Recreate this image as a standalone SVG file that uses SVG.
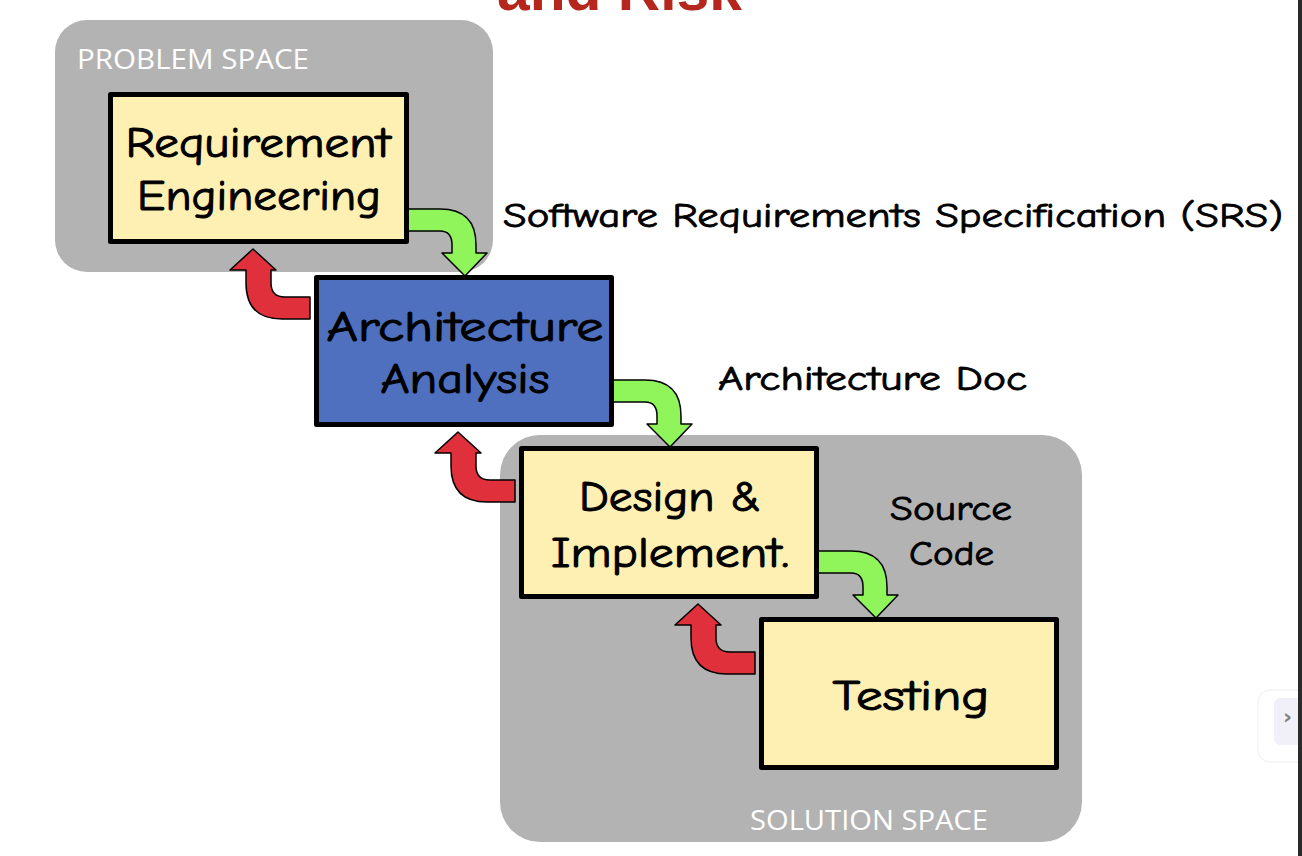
<svg xmlns="http://www.w3.org/2000/svg" xmlns:xlink="http://www.w3.org/1999/xlink" width="1302" height="856" viewBox="0 0 1302 856">
<style>
.space{fill:#b3b3b3}
.spacelabel{font-family:"Open Sans","Liberation Sans",sans-serif;font-size:27px;fill:#ffffff}
.box{stroke:#000;stroke-width:5;stroke-linejoin:round}
.yellow{fill:#fdf0b2}
.blue{fill:#4f6fbf}
.t{font-family:"Comic Sans MS","Comic Neue","DejaVu Sans",sans-serif;font-size:42px;fill:#000;stroke:#000;stroke-width:1;text-anchor:middle}
.lbl{font-family:"Comic Sans MS","Comic Neue","DejaVu Sans",sans-serif;font-size:34px;fill:#000;stroke:#000;stroke-width:0.8}
.green{fill:#8ff55a;stroke:#000;stroke-width:1.5;stroke-linejoin:round}
.red{fill:#e0303c;stroke:#000;stroke-width:1.5;stroke-linejoin:round}
</style>
<defs>
<path id="garrow" d="M405,209 L440,209 Q476,209 476,245 L476,253 L487,253 L465,276 L442,253 L452,253 L452,245 Q452,231 440,231 L405,231 Z"/>
<path id="rarrow" d="M310,297 L285,297 Q271,297 271,283 L271,270 L276,270 L253,249 L230,270 L246,270 L246,283 Q246,319 282,319 L310,319 Z"/>
</defs>
<rect width="1302" height="856" fill="#ffffff"/>
<text x="497" y="10" font-family="Liberation Sans,Arial,sans-serif" font-weight="bold" font-size="59" fill="#b5261c" textLength="245" lengthAdjust="spacingAndGlyphs">and Risk</text>
<g id="problem-space">
<rect class="space" x="55" y="20" width="438" height="252" rx="32"/>
<text class="spacelabel" x="77" y="69" textLength="232" lengthAdjust="spacingAndGlyphs">PROBLEM SPACE</text>
</g>
<g id="solution-space">
<rect class="space" x="500" y="435" width="582" height="407" rx="40"/>
<text class="spacelabel" x="750" y="830" textLength="238" lengthAdjust="spacingAndGlyphs">SOLUTION SPACE</text>
</g>
<g id="connectors">
<use xlink:href="#garrow" class="green"/>
<use xlink:href="#garrow" class="green" transform="translate(205,171)"/>
<use xlink:href="#garrow" class="green" transform="translate(411,342)"/>
<use xlink:href="#rarrow" class="red"/>
<use xlink:href="#rarrow" class="red" transform="translate(205,183)"/>
<use xlink:href="#rarrow" class="red" transform="translate(445,355)"/>
</g>
<g id="requirement-engineering">
<rect class="box yellow" x="110.5" y="94.5" width="296" height="147"/>
<text class="t" x="258" y="157" textLength="265" lengthAdjust="spacingAndGlyphs">Requirement</text>
<text class="t" x="259" y="210" textLength="244" lengthAdjust="spacingAndGlyphs">Engineering</text>
</g>
<g id="architecture-analysis">
<rect class="box blue" x="316.5" y="277.5" width="295" height="147"/>
<text class="t" x="465" y="341" textLength="277" lengthAdjust="spacingAndGlyphs">Architecture</text>
<text class="t" x="465" y="393" textLength="169" lengthAdjust="spacingAndGlyphs">Analysis</text>
</g>
<g id="design-implement">
<rect class="box yellow" x="521.5" y="448.5" width="295" height="148"/>
<text class="t" x="670" y="511" textLength="182" lengthAdjust="spacingAndGlyphs">Design &amp;</text>
<text class="t" x="670" y="567" textLength="238" lengthAdjust="spacingAndGlyphs">Implement.</text>
</g>
<g id="testing">
<rect class="box yellow" x="761.5" y="619.5" width="295" height="148"/>
<text class="t" x="911" y="710" textLength="157" lengthAdjust="spacingAndGlyphs">Testing</text>
</g>
<g id="labels">
<text class="lbl" x="503" y="227" textLength="780" lengthAdjust="spacingAndGlyphs">Software Requirements Specification (SRS)</text>
<text class="lbl" x="718" y="390" textLength="309" lengthAdjust="spacingAndGlyphs">Architecture Doc</text>
<text class="lbl" x="890" y="520" textLength="122" lengthAdjust="spacingAndGlyphs">Source</text>
<text class="lbl" x="909" y="565" textLength="85" lengthAdjust="spacingAndGlyphs">Code</text>
</g>
<g id="side-widget">
<rect x="1258" y="690" width="60" height="72" rx="12" fill="#ffffff" stroke="#eeeeee" stroke-width="1"/>
<rect x="1274" y="698" width="40" height="47" rx="6" fill="#f1eff7"/>
<text x="1283" y="724" font-family="DejaVu Sans,sans-serif" font-size="22" font-weight="bold" fill="#808080">›</text>
<rect x="1298" y="0" width="4" height="856" fill="#2a2a2a"/>
</g>
</svg>
